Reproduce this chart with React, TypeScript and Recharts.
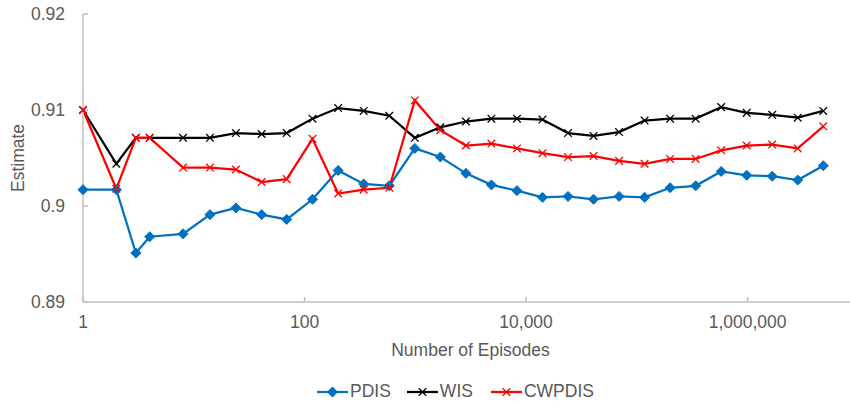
import { LineChart, Line, XAxis, YAxis, Legend } from 'recharts';

const episodes = [
  1, 2, 3, 4, 8, 14, 24, 41, 69, 118, 201, 342, 582, 990, 1683, 2862, 4866, 8272,
  14063, 23907, 40642, 69092, 117456, 199676, 339449, 577063, 981007, 1667712,
  2835110, 4819688,
];
const pdis = [
  0.9017, 0.9017, 0.8951, 0.8968, 0.8971, 0.8991, 0.8998, 0.8991, 0.8986, 0.9007,
  0.9037, 0.9023, 0.9021, 0.906, 0.9051, 0.9034, 0.9022, 0.9016, 0.9009, 0.901,
  0.9007, 0.901, 0.9009, 0.9019, 0.9021, 0.9036, 0.9032, 0.9031, 0.9027, 0.9042,
];
const wis = [
  0.91, 0.9044, 0.9071, 0.9071, 0.9071, 0.9071, 0.9076, 0.9075, 0.9076, 0.9091,
  0.9102, 0.9099, 0.9094, 0.9071, 0.9082, 0.9088, 0.9091, 0.9091, 0.909, 0.9076,
  0.9073, 0.9077, 0.9089, 0.9091, 0.9091, 0.9103, 0.9097, 0.9095, 0.9092, 0.9099,
];
const cwpdis = [
  0.91, 0.9018, 0.9071, 0.9071, 0.904, 0.904, 0.9038, 0.9025, 0.9028, 0.907,
  0.9013, 0.9017, 0.9019, 0.911, 0.9079, 0.9063, 0.9065, 0.906, 0.9055, 0.9051,
  0.9052, 0.9047, 0.9044, 0.9049, 0.9049, 0.9058, 0.9063, 0.9064, 0.906, 0.9083,
];
const xTicks = [1, 100, 10000, 1000000];
const yTicks = [0.89, 0.9, 0.91, 0.92];

const FONT = '"Liberation Sans", Arial, sans-serif';
const GREY = '#595959';
const AXIS = '#bfbfbf';

const series = [
  { key: 'pdis', name: 'PDIS', color: '#0070c0', marker: 'diamond' },
  { key: 'wis', name: 'WIS', color: '#000000', marker: 'x' },
  { key: 'cwpdis', name: 'CWPDIS', color: '#ff0000', marker: 'x' },
];

function Marker({ cx, cy, color, kind }: { cx: number; cy: number; color: string; kind: string }) {
  if (cx == null || cy == null) return null;
  if (kind === 'diamond') {
    const r = 5;
    return <path d={`M${cx},${cy - r}L${cx + r},${cy}L${cx},${cy + r}L${cx - r},${cy}Z`} fill={color} stroke={color} />;
  }
  const r = 3.8;
  return (
    <path
      d={`M${cx - r},${cy - r}L${cx + r},${cy + r}M${cx - r},${cy + r}L${cx + r},${cy - r}`}
      stroke={color}
      strokeWidth={1.3}
      fill="none"
    />
  );
}

function LegendContent() {
  return (
    <div style={{ display: 'flex', marginLeft: 317, alignItems: 'center', fontFamily: FONT, fontSize: 17.5, color: GREY }}>
      {series.map((s, i) => (
        <div key={s.key} style={{ display: 'flex', alignItems: 'center', marginRight: i === 0 ? 16 : 18 }}>
          <svg width={31} height={14}>
            <line x1={0} y1={7} x2={31} y2={7} stroke={s.color} strokeWidth={2.25} />
            <Marker cx={15.5} cy={7} color={s.color} kind={s.marker} />
          </svg>
          <span style={{ marginLeft: 2 }}>{s.name}</span>
        </div>
      ))}
    </div>
  );
}

export default function App() {
  const data = episodes.map((x, i) => ({ x, pdis: pdis[i], wis: wis[i], cwpdis: cwpdis[i] }));
  const tickStyle = { fill: GREY, fontSize: 17.5, fontFamily: FONT };

  return (
    <div style={{ position: 'absolute', left: 0, top: 0, background: '#fff' }}>
      <LineChart width={850} height={404} data={data} margin={{ top: 14, right: 0, bottom: 62, left: 0 }}>
        <XAxis
          dataKey="x"
          type="number"
          scale="log"
          domain={[1, 8400000]}
          ticks={xTicks}
          tickFormatter={(v: number) => v.toLocaleString('en-US')}
          tick={tickStyle}
          stroke={AXIS}
          strokeWidth={1.5}
          tickSize={-5}
          tickMargin={19}
          height={40}
          interval={0}
          label={(props: any) => {
            const vb = props.viewBox || { x: 83, width: 767, y: 302 };
            return (
              <text x={vb.x + vb.width / 2 + 4} y={356} textAnchor="middle" fill={GREY} fontSize={17.5} fontFamily={FONT}>
                Number of Episodes
              </text>
            );
          }}
        />
        <YAxis
          type="number"
          domain={[0.89, 0.92]}
          ticks={yTicks}
          tick={tickStyle}
          stroke={AXIS}
          strokeWidth={1.5}
          tickSize={-5}
          tickMargin={23}
          width={83}
          interval={0}
          label={() => (
            <text x={23.5} y={158} transform="rotate(-90 23.5 158)" textAnchor="middle" fill={GREY} fontSize={17.5} fontFamily={FONT}>
              Estimate
            </text>
          )}
        />
        <Legend
          verticalAlign="middle"
          align="center"
          layout="horizontal"
          content={<LegendContent />}
          wrapperStyle={{ top: 381, left: 0, width: 850 }}
        />
        {series.map((s) => (
          <Line
            key={s.key}
            dataKey={s.key}
            name={s.name}
            stroke={s.color}
            strokeWidth={2.25}
            type="linear"
            isAnimationActive={false}
            dot={(p: any) => <Marker key={`${s.key}-${p.index}`} cx={p.cx} cy={p.cy} color={s.color} kind={s.marker} />}
            activeDot={false}
          />
        ))}
      </LineChart>
    </div>
  );
}
